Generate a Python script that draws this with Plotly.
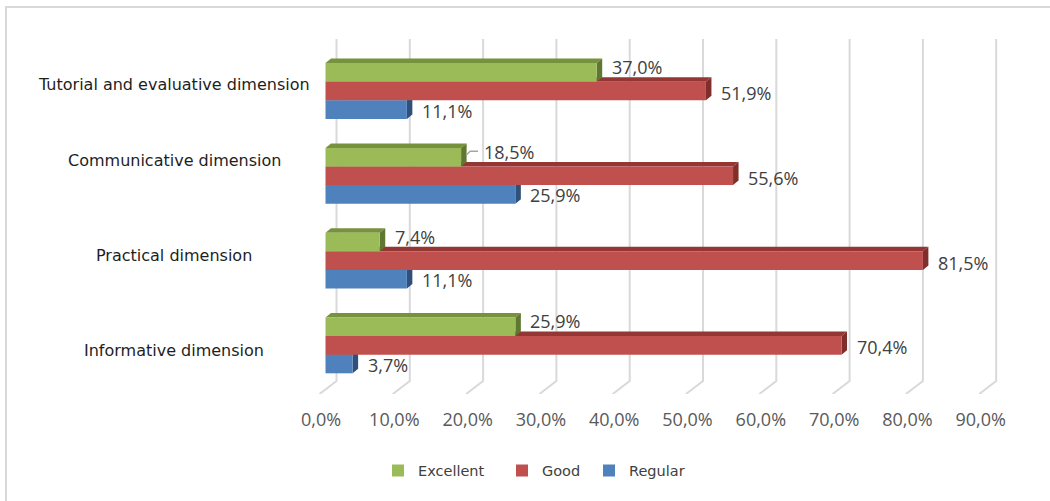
import plotly.graph_objects as go

# ---------------- data ----------------
categories = ["Informative dimension", "Practical dimension",
              "Communicative dimension", "Tutorial and evaluative dimension"]
excellent = [25.9, 7.4, 18.5, 37.0]
good = [70.4, 81.5, 55.6, 51.9]
regular = [3.7, 11.1, 25.9, 11.1]
x_ticks = [0, 10, 20, 30, 40, 50, 60, 70, 80, 90]
x_tick_labels = ["0,0%", "10,0%", "20,0%", "30,0%", "40,0%",
                 "50,0%", "60,0%", "70,0%", "80,0%", "90,0%"]

# ---------------- layout geometry (pixels) ----------------
W, H = 1050, 501
ML, MR, MT, MB = 314, 40, 39, 107
PW, PH = W - ML - MR, H - MT - MB
ZERO_PX, KX = 325.5, 7.33          # front-plane zero and px per 1 %
GROUP_PX, FIRST_CENTER_PX = 84.8, 345.4
x0 = (ML - ZERO_PX) / KX
x1 = (W - MR - ZERO_PX) / KX
y_top = (FIRST_CENTER_PX - MT) / GROUP_PX
y_bot = (FIRST_CENTER_PX - (H - MB)) / GROUP_PX
BAR_H = 18.6 / GROUP_PX
DX, DY = 5.5 / KX, 4.5 / GROUP_PX   # 3-D depth of the bars
GRID_SHIFT = 11.0 / KX              # back-wall gridline offset
FLOOR_DX = 17.0 / KX
BACK_FLOOR = (FIRST_CENTER_PX - 381) / GROUP_PX
TICK_SHIFT = -4.5 / KX


def px_x(px):
    return (px - ML) / PW


def px_y(py):
    return (H - MB - py) / PH


# series drawn bottom -> top inside each group
series = [
    dict(name="Regular", vals=regular, off=-BAR_H, front="#4F81BD",
         top="#3A6190", side="#2F5079", lab_dy=-1, legend="legend3", leg_px=589),
    dict(name="Good", vals=good, off=0.0, front="#C0504D",
         top="#943634", side="#7F2E2C", lab_dy=-2, legend="legend2", leg_px=502),
    dict(name="Excellent", vals=excellent, off=BAR_H, front="#9BBB59",
         top="#76923C", side="#5F7731", lab_dy=5.5, legend="legend", leg_px=378),
]
# labels pushed further right, with a leader line (series, category index)
label_nudge = {("Excellent", 2): 8}

shapes = []
# gridlines with the floor diagonal (3-D look)
for t in x_ticks:
    gx = t + GRID_SHIFT
    shapes.append(dict(
        type="path", xref="x", yref="y", layer="below",
        path=f"M {gx},{y_top} L {gx},{BACK_FLOOR} L {gx - FLOOR_DX},{y_bot}",
        line=dict(color="#D9D9D9", width=2)))

# top and side faces of each bar
for s in series:
    for i, v in enumerate(s["vals"]):
        yc = i + s["off"]
        yt, yb = yc + BAR_H / 2, yc - BAR_H / 2
        shapes.append(dict(
            type="path", xref="x", yref="y", layer="below",
            path=f"M 0,{yt} L {v},{yt} L {v + DX},{yt + DY} L {DX},{yt + DY} Z",
            fillcolor=s["top"], line=dict(width=0)))
        shapes.append(dict(
            type="path", xref="x", yref="y", layer="below",
            path=f"M {v},{yb} L {v},{yt} L {v + DX},{yt + DY} L {v + DX},{yb + DY} Z",
            fillcolor=s["side"], line=dict(width=0)))

# outer chart border (top and left edges visible)
shapes.append(dict(type="line", xref="paper", yref="paper",
                   x0=px_x(5), x1=px_x(1060), y0=px_y(7), y1=px_y(7),
                   line=dict(color="#D9D9D9", width=2)))
shapes.append(dict(type="line", xref="paper", yref="paper",
                   x0=px_x(6), x1=px_x(6), y0=px_y(7), y1=px_y(510),
                   line=dict(color="#D9D9D9", width=2)))

fig = go.Figure()
annotations = []
layout_legends = {}
for s in series:
    ys = [i + s["off"] for i in range(len(categories))]
    fig.add_trace(go.Bar(
        x=s["vals"], y=ys, orientation="h", width=BAR_H, name=s["name"],
        marker=dict(color=s["front"], line=dict(width=0)),
        legend=s["legend"], hoverinfo="skip"))
    layout_legends[s["legend"]] = dict(
        orientation="h", x=px_x(s["leg_px"]), xanchor="left",
        y=px_y(470.5), yanchor="middle",
        font=dict(family="DejaVu Sans", size=14.5, color="#404040"),
        bgcolor="rgba(0,0,0,0)")
    for i, (v, y) in enumerate(zip(s["vals"], ys)):
        nudge = label_nudge.get((s["name"], i), 0)
        annotations.append(dict(
            x=v, y=y, xref="x", yref="y", xanchor="left", yanchor="middle",
            xshift=13 + nudge, yshift=s["lab_dy"], showarrow=False,
            text=f"{v:.1f}".replace(".", ",") + "%",
            font=dict(family="Open Sans", size=18, color="#404040")))
        if nudge:
            shapes.append(dict(
                type="path", xref="x", yref="y", xanchor=v, yanchor=y,
                xsizemode="pixel", ysizemode="pixel",
                path="M 5,2 L 9,6 L 17,6",
                line=dict(color="#A6A6A6", width=1.5)))

cat_yshift = [-4.6, 5.6, 15.8, 7.0]
for i, c in enumerate(categories):
    annotations.append(dict(
        x=px_x(174), y=i, xref="paper", yref="y", xanchor="center",
        yanchor="middle", yshift=cat_yshift[i], showarrow=False, text=c,
        font=dict(family="DejaVu Sans", size=16, color="#1E1E1E")))

fig.update_layout(
    width=W, height=H,
    margin=dict(l=ML, r=MR, t=MT, b=MB, pad=0),
    paper_bgcolor="white", plot_bgcolor="white",
    barmode="overlay",
    shapes=shapes, annotations=annotations,
    showlegend=True,
    xaxis=dict(range=[x0, x1], tickvals=[t + TICK_SHIFT for t in x_ticks],
               ticktext=x_tick_labels, showgrid=False, zeroline=False,
               showline=False, ticks="outside", ticklen=9,
               tickcolor="rgba(0,0,0,0)",
               tickfont=dict(family="Open Sans", size=18, color="#595959"),
               fixedrange=True),
    yaxis=dict(range=[y_bot, y_top], showticklabels=False, showgrid=False,
               zeroline=False, showline=False, fixedrange=True),
    hovermode=False,
    **layout_legends,
)

fig.write_html("out.html")
